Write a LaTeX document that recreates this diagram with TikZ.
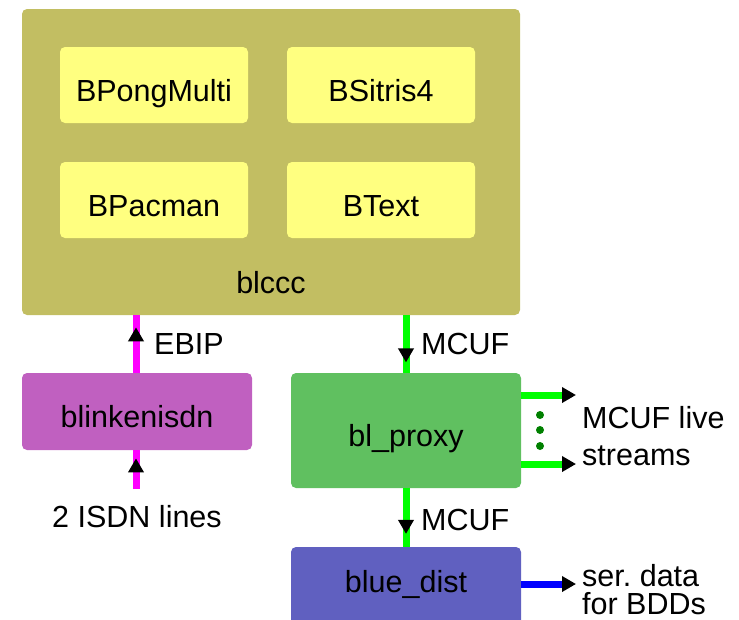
\documentclass[tikz,border=0pt]{standalone}
\usepackage{fontspec}
\setmainfont{Liberation Sans}
\frenchspacing
\usetikzlibrary{arrows.meta,decorations.markings}
\definecolor{olivebox}{HTML}{C2BE62}
\definecolor{yelbox}{HTML}{FFFF80}
\definecolor{purpbox}{HTML}{C060C0}
\definecolor{greenbox}{HTML}{60C060}
\definecolor{bluebox}{HTML}{6060C0}
\definecolor{magline}{HTML}{FF00FF}
\definecolor{grnline}{HTML}{00FF00}
\definecolor{bluline}{HTML}{0000FF}
\definecolor{dotgreen}{HTML}{008000}
\newcommand{\bigfont}{\fontsize{30.5}{36}\selectfont}
\tikzset{
  box/.style={rectangle, rounded corners=5pt, draw=none, inner sep=0pt, font=\bigfont, text height=32pt, text depth=0pt},
  inbox/.style={box, fill=yelbox, minimum width=188pt, minimum height=76pt},
  lbl/.style={font=\bigfont, inner sep=0pt},
  conn/.style={line width=7pt},
  midtip/.style={postaction={decorate}, decoration={markings, mark=at position #1 with {\arrow{Triangle[black,width=15pt,length=14pt]}}}}
}
\begin{document}
\begin{tikzpicture}[x=1pt,y=-1pt]
\useasboundingbox (0,0) rectangle (739,619);
\clip (0,0) rectangle (739,619);
% main boxes
\node[box, fill=olivebox, minimum width=498pt, minimum height=306pt] (blccc) at (271,162) {};
\node[inbox] (pong) at (154,85) {BPongMulti};
\node[inbox] (sitris) at (381,85) {BSitris4};
\node[inbox] (pacman) at (154,200) {BPacman};
\node[inbox] (btext) at (381,200) {BText};
\node[lbl, anchor=base] (blccclbl) at (271,293) {blccc};
\node[box, fill=purpbox, minimum width=230pt, minimum height=77pt] (isdn) at (137,411.5) {blinkenisdn};
\node[box, fill=greenbox, minimum width=230pt, minimum height=115pt] (proxy) at (406,430.5) {bl\_proxy};
\node[box, fill=bluebox, minimum width=230pt, minimum height=84pt] (dist) at (406,589) {};
\node[lbl, anchor=base] (distlbl) at (406,592) {blue\_dist};
% coordinates
\coordinate (isdnin) at (136,489);
\coordinate (live1) at (576,395);
\coordinate (live2) at (576,464);
\coordinate (serout) at (576,584);
% connectors
\draw[conn, magline, midtip=0.79] ([xshift=-1pt]isdn.north) -- ([xshift=-1pt]isdn.north |- blccc.south);
\draw[conn, magline, midtip=0.79] (isdnin) -- (isdnin |- isdn.south);
\draw[conn, grnline, midtip=0.82] (blccc.south -| proxy.north) -- (proxy.north);
\draw[conn, grnline, midtip=0.78] (proxy.south) -- (dist.north);
\draw[conn, grnline, -{Triangle[black,width=15pt,length=14pt]}] (proxy.east |- live1) -- (live1);
\draw[conn, grnline, -{Triangle[black,width=15pt,length=14pt]}] (proxy.east |- live2) -- (live2);
\draw[conn, bluline, -{Triangle[black,width=15pt,length=14pt]}] (dist.east |- serout) -- (serout);
% dots
\foreach \yy in {415,430,446} \fill[dotgreen] (540,\yy) circle (4pt);
% labels
\node[lbl, anchor=base west] (ebip) at (154,354) {EBIP};
\node[lbl, anchor=base west] (mcuf1) at (421,354) {MCUF};
\node[lbl, anchor=base west] (mcuf2) at (421,530) {MCUF};
\node[lbl, anchor=base] (isdnlines) at (137,527) {2 ISDN lines};
\node[lbl, anchor=base west] (livea) at (582,428) {MCUF live};
\node[lbl, anchor=base west] (liveb) at (582,465) {streams};
\node[lbl, font=\fontsize{30.5}{27.5}\selectfont, align=left, anchor=base west] (ser) at (582,614) {ser. data\\for BDDs};
\end{tikzpicture}
\end{document}
